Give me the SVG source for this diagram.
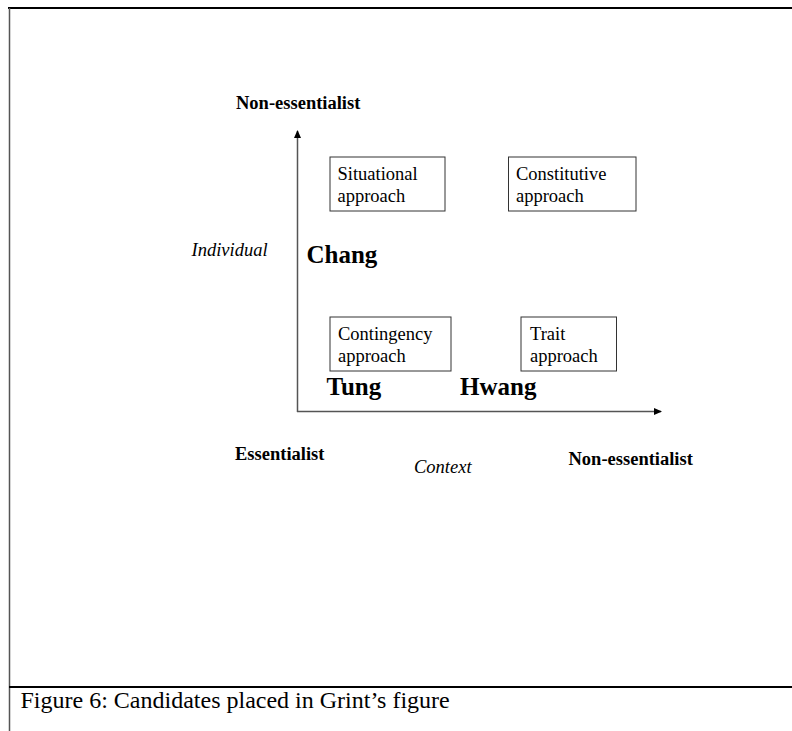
<svg xmlns="http://www.w3.org/2000/svg" width="792" height="731" viewBox="0 0 792 731">
<style>
text{font-family:"Liberation Serif","Times New Roman",serif;fill:#000}
.b{font-weight:bold}
.i{font-style:italic}
.box{fill:#fff;stroke:#333;stroke-width:1}
.ax{stroke:#555;stroke-width:1.5;fill:none}
.bt{font-size:18.5px}
.nm{font-size:25px;font-weight:bold}
.lb{font-size:18.5px}
</style>
<defs>
<marker id="ah" markerWidth="8" markerHeight="8" refX="7" refY="4" orient="auto" markerUnits="userSpaceOnUse">
<path d="M0,0.5 L8,4 L0,7.5 Z" fill="#000"/>
</marker>
</defs>
<rect width="792" height="731" fill="#fff"/>
<g id="frame">
<line x1="8" y1="8" x2="792" y2="8" stroke="#000" stroke-width="2"/>
<line x1="9.5" y1="8" x2="9.5" y2="731" stroke="#555" stroke-width="1.5"/>
<line x1="9" y1="687" x2="792" y2="687" stroke="#000" stroke-width="2"/>
</g>
<g id="connectors">
<line class="ax" x1="297.5" y1="412" x2="297.5" y2="131" marker-end="url(#ah)"/>
<line class="ax" x1="297" y1="411.5" x2="661" y2="411.5" marker-end="url(#ah)"/>
</g>
<g id="situational">
<rect class="box" x="330" y="157" width="115" height="54"/>
<text class="bt" x="337.5" y="180">Situational</text>
<text class="bt" x="337.5" y="201.5">approach</text>
</g>
<g id="constitutive">
<rect class="box" x="508.5" y="157" width="127.5" height="54"/>
<text class="bt" x="516" y="180">Constitutive</text>
<text class="bt" x="516" y="201.5">approach</text>
</g>
<g id="contingency">
<rect class="box" x="330" y="317" width="121" height="54"/>
<text class="bt" x="338" y="340">Contingency</text>
<text class="bt" x="338" y="361.5">approach</text>
</g>
<g id="trait">
<rect class="box" x="521" y="317" width="95.5" height="54"/>
<text class="bt" x="530" y="340">Trait</text>
<text class="bt" x="530" y="361.5">approach</text>
</g>
<g id="chang"><text class="nm" x="306.5" y="263">Chang</text></g>
<g id="tung"><text class="nm" x="326.5" y="395">Tung</text></g>
<g id="hwang"><text class="nm" x="460" y="395">Hwang</text></g>
<g id="labels">
<text class="lb b" x="236" y="109">Non-essentialist</text>
<text class="lb i" x="191.5" y="256">Individual</text>
<text class="lb b" x="235" y="460">Essentialist</text>
<text class="lb i" x="414" y="473">Context</text>
<text class="lb b" x="568.5" y="465">Non-essentialist</text>
</g>
<g id="caption"><text x="20.5" y="707.5" style="font-size:24px">Figure 6: Candidates placed in Grint’s figure</text></g>
</svg>
